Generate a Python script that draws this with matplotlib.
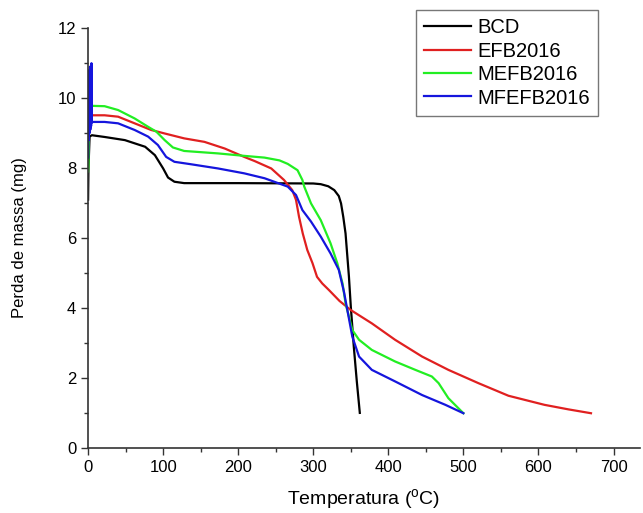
import matplotlib
matplotlib.use("Agg")
import matplotlib.pyplot as plt
from matplotlib.ticker import MultipleLocator

plt.rcParams['font.family'] = ['Liberation Sans', 'DejaVu Sans']
plt.rcParams['mathtext.fontset'] = 'custom'
plt.rcParams['mathtext.rm'] = 'Liberation Sans'

bcd_x = [0, 0.5, 2, 5, 22, 49, 76, 89, 100, 106.5, 115, 128, 200, 300, 310, 320,
         328, 334, 337, 340, 343, 347.5, 350, 354, 358, 362]
bcd_y = [7.1, 8.0, 8.9, 8.94, 8.89, 8.8, 8.61, 8.37, 7.99, 7.73, 7.61, 7.57, 7.57,
         7.56, 7.54, 7.48, 7.37, 7.2, 6.99, 6.6, 6.13, 4.9, 4.04, 2.89, 1.9, 1.0]

efb_x = [0, 1, 2, 3, 5, 22, 40, 62, 84, 102, 128, 155, 182, 208, 222, 244, 261,
         272, 277, 281, 286, 292, 299, 305, 312, 321, 335, 350, 378, 409, 445, 480,
         520, 560, 608, 640, 670]
efb_y = [9.0, 9.5, 9.1, 9.5, 9.51, 9.51, 9.47, 9.28, 9.09, 8.99, 8.85, 8.75, 8.56,
         8.32, 8.2, 7.99, 7.66, 7.37, 7.09, 6.61, 6.13, 5.66, 5.28, 4.89, 4.7, 4.51,
         4.2, 3.94, 3.56, 3.09, 2.61, 2.23, 1.85, 1.49, 1.23, 1.1, 0.99]

mefb_x = [0, 0.5, 1, 2, 3, 5, 22, 40, 62, 80, 91, 102, 113, 128, 173, 208, 235, 255,
          266, 279, 285.5, 288, 297, 310, 323, 332, 339, 343, 352, 361, 378, 409,
          436, 458, 467, 480, 500]
mefb_y = [7.9, 8.1, 9.3, 9.75, 9.78, 9.78, 9.77, 9.66, 9.42, 9.18, 9.04, 8.8, 8.59,
          8.49, 8.42, 8.35, 8.3, 8.22, 8.12, 7.94, 7.66, 7.47, 6.99, 6.51, 5.85, 5.28,
          4.7, 4.13, 3.37, 3.09, 2.8, 2.47, 2.23, 2.04, 1.85, 1.42, 0.99]

mfefb_x = [0, 0.5, 1, 1.5, 2, 2.5, 3, 3.5, 4, 4.5, 5, 6, 22, 40, 62, 80, 93, 104,
           115, 137, 173, 208, 235, 248, 266, 277, 285.5, 297, 310, 323, 334, 341,
           352, 361, 378, 409, 445, 476, 500]
mfefb_y = [8.3, 10.6, 8.8, 10.8, 9.0, 10.9, 9.1, 10.7, 9.2, 11.0, 9.3, 9.32, 9.32,
           9.28, 9.09, 8.9, 8.66, 8.32, 8.18, 8.11, 7.99, 7.85, 7.71, 7.61, 7.47,
           7.23, 6.8, 6.47, 6.04, 5.56, 5.09, 4.45, 3.18, 2.61, 2.23, 1.9, 1.51,
           1.23, 0.99]

labels = ['BCD', 'EFB2016', 'MEFB2016', 'MFEFB2016']
colors = ['#000000', '#e02020', '#22ee22', '#1515dd']

fig = plt.figure(figsize=(6.43, 5.13), dpi=100)
ax = fig.add_axes([0.137, 0.127, 0.858, 0.818])

series = [(bcd_x, bcd_y), (efb_x, efb_y), (mefb_x, mefb_y), (mfefb_x, mfefb_y)]
for (xs, ys), lab, c in zip(series, labels, colors):
    ax.plot(xs, ys, color=c, lw=1.6, label=lab)

ax.set_xlim(0, 735)
ax.set_ylim(0, 12)
ax.xaxis.set_major_locator(MultipleLocator(100))
ax.xaxis.set_minor_locator(MultipleLocator(50))
ax.yaxis.set_major_locator(MultipleLocator(2))
ax.yaxis.set_minor_locator(MultipleLocator(1))
ax.spines['top'].set_visible(False)
ax.spines['right'].set_visible(False)
for s in ['left', 'bottom']:
    ax.spines[s].set_color('#333333')
    ax.spines[s].set_linewidth(1.2)
ax.tick_params(which='major', direction='out', length=5, width=1, labelsize=12,
               colors='#333333', labelcolor='black')
ax.tick_params(which='minor', direction='out', length=3, width=1, colors='#333333')

ax.set_xlabel('Temperatura ($^{\\mathrm{o}}$C)', fontsize=14, labelpad=9)
ax.set_ylabel('Perda de massa (mg)', fontsize=12, labelpad=22)

leg = ax.legend(loc='upper right', bbox_to_anchor=(0.924, 1.043), fontsize=14.5,
                frameon=True, fancybox=False, edgecolor='#555555',
                handlelength=2.35, handletextpad=0.3, borderpad=0.4,
                labelspacing=0.22, borderaxespad=0)
leg.get_frame().set_linewidth(1.0)

fig.savefig('out.png', dpi=100)
